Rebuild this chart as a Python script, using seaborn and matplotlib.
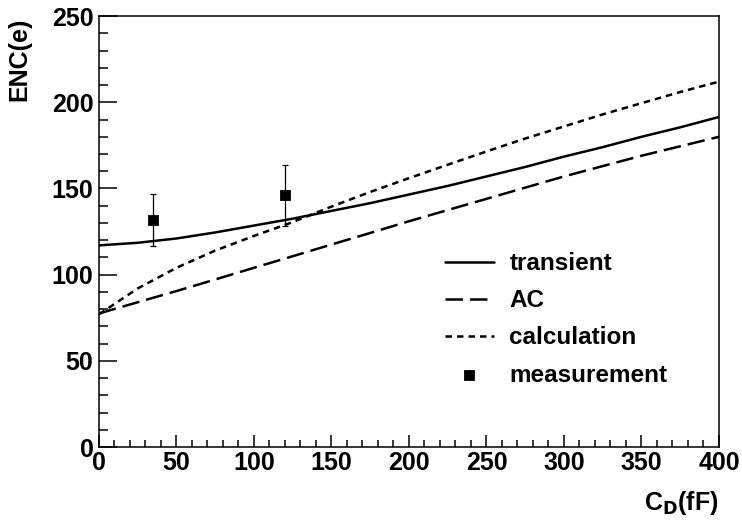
#ENC vs detector capacitance__________________________________________________

import numpy as np
import pandas as pd
import seaborn as sns
import matplotlib.pyplot as plt
from matplotlib.ticker import MultipleLocator

#Curve values
cd_curve = [0, 25, 50, 75, 100, 125, 150, 175, 200, 225, 250, 275, 300, 325, 350, 375, 400]
enc_transient = [117, 118.5, 121, 124.5, 128.5, 132.5, 137, 141.5, 146.5, 151.5, 157, 162.5, 168.5, 174, 180, 185.5, 191.5]
enc_ac = [77.5, 84, 90.5, 97.2, 104, 110.7, 117.5, 124.2, 131, 137.5, 144, 150.5, 157, 163, 169, 174.5, 180]
enc_calc = [77, 92, 104, 114, 122.5, 130.5, 139.5, 148, 156, 163.8, 171.5, 179, 186, 193, 199.5, 206, 212]

#Measurements
cd_meas = [35, 120]
enc_meas = [132, 146]
err_lo = [15.5, 18]
err_hi = [15, 17.5]

curves = pd.DataFrame({'cd': cd_curve, 'transient': enc_transient,
                       'AC': enc_ac, 'calculation': enc_calc})
meas = pd.DataFrame({'cd': cd_meas, 'enc': enc_meas})

sns.set_theme(style='ticks')
plt.rcParams['font.family'] = ['Liberation Sans', 'DejaVu Sans']
plt.rcParams['font.weight'] = 'bold'
plt.rcParams['text.color'] = 'black'
plt.rcParams['axes.labelcolor'] = 'black'
plt.rcParams['xtick.color'] = 'black'
plt.rcParams['ytick.color'] = 'black'

fig = plt.figure(figsize=(7.42, 5.21), dpi=100)
ax = fig.add_axes([0.1334, 0.142, 0.8356, 0.827])

lw = 1.8
sns.lineplot(data=curves, x='cd', y='transient', ax=ax, color='black', lw=lw, label='transient')
sns.lineplot(data=curves, x='cd', y='AC', ax=ax, color='black', lw=lw, ls=(0, (7, 2.8)), label='AC')
sns.lineplot(data=curves, x='cd', y='calculation', ax=ax, color='black', lw=lw, ls=(0, (2.6, 2.0)), label='calculation')
ax.errorbar(cd_meas, enc_meas, yerr=[err_lo, err_hi], fmt='none', ecolor='black',
            elinewidth=0.9, capsize=2.5, capthick=0.9)
sns.scatterplot(data=meas, x='cd', y='enc', ax=ax, marker='s', color='black', s=55,
                edgecolor='black', label='measurement', zorder=5)

ax.set_xlim(0, 400)
ax.set_ylim(0, 250)
ax.xaxis.set_major_locator(MultipleLocator(50))
ax.xaxis.set_minor_locator(MultipleLocator(10))
ax.yaxis.set_major_locator(MultipleLocator(50))
ax.yaxis.set_minor_locator(MultipleLocator(10))

#ROOT-like ticks: inside, only bottom and left
ax.tick_params(axis='both', which='both', direction='in', top=False, right=False,
               width=1.1, color='black', labelcolor='black', labelsize=18)
ax.tick_params(axis='y', which='major', length=13, pad=4)
ax.tick_params(axis='y', which='minor', length=6.5)
ax.tick_params(axis='x', which='major', length=9, pad=3)
ax.tick_params(axis='x', which='minor', length=4.8)
for lab in ax.get_xticklabels() + ax.get_yticklabels():
    lab.set_fontweight('bold')
for sp in ax.spines.values():
    sp.set_linewidth(1.1)
    sp.set_color('black')

ax.set_xlabel(r'C$_{\mathbf{D}}$(fF)', fontsize=18, fontweight='bold', ha='right', va='top')
ax.xaxis.set_label_coords(1.0, -0.098)
#label is rotated with rotation_mode='anchor': ha/va act before rotation
ax.set_ylabel('ENC(e)', fontsize=18, fontweight='bold', ha='right', va='top')
ax.yaxis.set_label_coords(-0.147, 0.996)

handles, labels = ax.get_legend_handles_labels()
leg = ax.legend(handles, labels, loc='upper left', bbox_to_anchor=(0.558, 0.452),
                frameon=False, fontsize=17.5, handlelength=2.0, handletextpad=0.65,
                labelspacing=0.58, borderpad=0, borderaxespad=0)
for t in leg.get_texts():
    t.set_fontweight('bold')
    t.set_color('black')

plt.savefig('out.png', dpi=100)
